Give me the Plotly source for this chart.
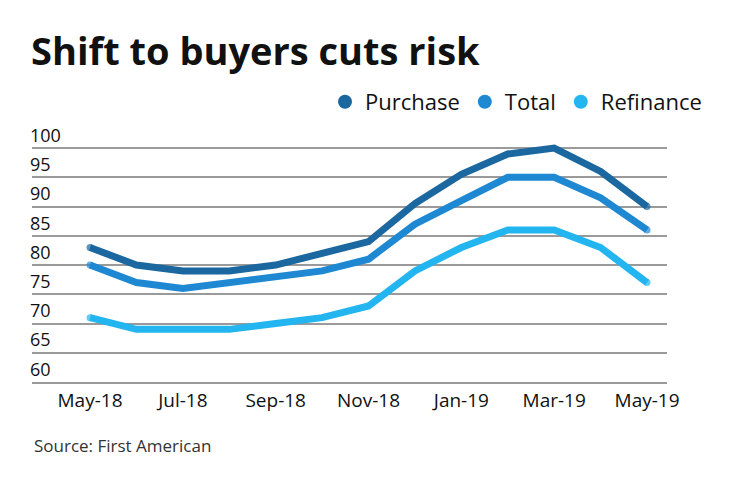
import plotly.graph_objects as go

months = ['May-18', 'Jun-18', 'Jul-18', 'Aug-18', 'Sep-18', 'Oct-18', 'Nov-18',
          'Dec-18', 'Jan-19', 'Feb-19', 'Mar-19', 'Apr-19', 'May-19']
purchase = [83, 80, 79, 79, 80, 82, 84, 90.5, 95.5, 99, 100, 96, 90]
total = [80, 77, 76, 77, 78, 79, 81, 87, 91, 95, 95, 91.5, 86]
refinance = [71, 69, 69, 69, 70, 71, 73, 79, 83, 86, 86, 83, 77]
y_ticks = [60, 65, 70, 75, 80, 85, 90, 95, 100]

series = [('Purchase', purchase, '#1b679f'),
          ('Total', total, '#1e88d3'),
          ('Refinance', refinance, '#23b5f0')]

font = 'Open Sans'
x_idx = list(range(len(months)))

# plot area in pixels (the page body adds 8px, so everything is 8px up/left)
left, right, top, bottom = 24, 659, 105, 374
pw, ph = right - left, bottom - top

fig = go.Figure()
for name, values, color in series:
    # dots on the two ends give the lines round caps
    caps = [7] + [0] * (len(values) - 2) + [7]
    fig.add_trace(go.Scatter(x=x_idx, y=values, mode='lines+markers', name=name,
                             line=dict(color=color, width=7),
                             marker=dict(size=caps, color=color, line=dict(width=0)),
                             showlegend=False, hoverinfo='x+y'))
# legend entries drawn as dots
for name, values, color in series:
    fig.add_trace(go.Scatter(x=[None], y=[None], mode='markers', name=name,
                             marker=dict(color=color, size=14)))

fig.update_layout(
    width=740, height=482,
    margin=dict(l=left, r=740 - right, t=top, b=482 - bottom, autoexpand=False),
    paper_bgcolor='white', plot_bgcolor='white',
    font=dict(family=font, color='#111111'),
    title=dict(text='<b>Shift to buyers cuts risk</b>', x=23 / 740, xanchor='left',
               y=1 - 44 / 482, yanchor='middle', font=dict(size=38, color='#111111')),
    legend=dict(orientation='h', x=(699 - left) / pw, xanchor='right',
                y=(bottom - 94) / ph, yanchor='middle',
                font=dict(size=22, color='#111111'),
                bgcolor='rgba(0,0,0,0)'),
    xaxis=dict(range=[-1.25, 12.43], tickmode='array', tickvals=x_idx[::2],
               ticktext=months[::2], showgrid=False, zeroline=False,
               showline=True, linecolor='#9a9a9a', linewidth=1.5,
               ticks='', tickfont=dict(size=19, color='#111111'), fixedrange=True),
    yaxis=dict(range=[60, 106], tickmode='array', tickvals=y_ticks,
               showgrid=True, gridcolor='#9a9a9a', gridwidth=1.5, zeroline=False,
               showline=False, ticks='', ticklabelposition='inside top',
               ticklabelstandoff=-5,
               tickfont=dict(size=18, color='#111111'), fixedrange=True),
)
fig.add_annotation(text='Source: First American', xref='paper', yref='paper',
                   x=(24 - left) / pw, y=(bottom - 437) / ph, xanchor='left',
                   yanchor='middle', showarrow=False,
                   font=dict(size=17, color='#333333'))

fig.write_html("out.html")
